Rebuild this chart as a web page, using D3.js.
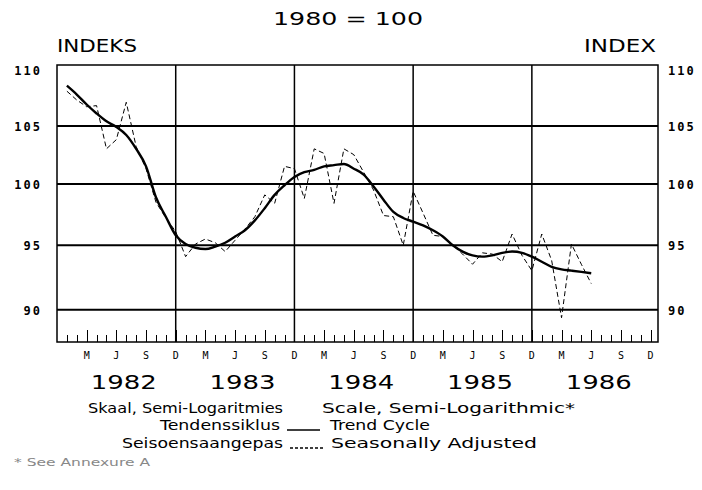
<!DOCTYPE html>
<html>
<head>
    <meta charset="utf-8">
    <style>
        body { margin: 0; background: #fff; }
        svg { display: block; }
        .grid { stroke: #000; }
        .tick { stroke: #000; stroke-width: 1.4px; shape-rendering: crispEdges; }
        .trend { fill: none; stroke: #000; stroke-width: 2.4px; }
        .seasonal { fill: none; stroke: #000; stroke-width: 1px; stroke-dasharray: 5,3; }
        .ylab { font-family: "DejaVu Sans Mono", monospace; font-weight: bold; font-size: 12px; fill: #000; }
        .txt { font-family: "DejaVu Sans", sans-serif; fill: #000; }
    </style>
</head>
<body>
    <script src="https://cdn.jsdelivr.net/npm/d3@7"></script>
    <script>
        // month index: 0 = Dec 1981, 1 = Jan 1982 ... 54 = Jun 1986
        var years = [1982, 1983, 1984, 1985, 1986];
        var quarterLabels = ["M", "J", "S", "D"];
        var yTicks = [90, 95, 100, 105, 110];
        var gridValues = [90, 95, 100, 105];

        // Tendenssiklus / Trend Cycle, Jan 1982 - Jun 1986
        var trend = [
            108.6, 107.8, 106.9, 106.1, 105.4, 104.9, 104.2, 103.0, 101.5, 98.9, 97.3, 95.8,
            95.1, 94.8, 94.7, 94.9, 95.2, 95.7, 96.2, 97.0, 98.0, 99.1, 99.9, 100.6,
            101.0, 101.2, 101.5, 101.6, 101.7, 101.3, 100.8, 99.8, 98.7, 97.7, 97.2, 96.9,
            96.6, 96.2, 95.7, 95.0, 94.5, 94.2, 94.1, 94.2, 94.4, 94.5, 94.4, 94.1,
            93.7, 93.3, 93.1, 93.0, 92.9, 92.8
        ];

        // Seisoensaangepas / Seasonally Adjusted, Jan 1982 - Jun 1986
        var seasonal = [
            108.1, 107.3, 106.7, 106.8, 103.0, 103.8, 107.1, 103.2, 101.3, 98.5, 97.2, 96.1,
            94.1, 95.1, 95.5, 95.2, 94.5, 95.4, 96.3, 97.3, 99.1, 98.4, 101.5, 101.3,
            98.8, 103.0, 102.6, 98.4, 103.0, 102.5, 101.0, 99.5, 97.4, 97.3, 95.0, 99.4,
            97.6, 95.8, 95.7, 95.0, 94.3, 93.5, 94.4, 94.3, 93.7, 95.9, 94.2, 93.0,
            95.9, 93.8, 89.4, 95.1, 93.5, 92.0
        ];

        var W = 702, H = 490;
        var pLeft = 57, pRight = 658, pTop = 65, pBottom = 342;

        // set the ranges
        var x = d3.scaleLinear().domain([0, 60.75]).range([pLeft, pRight]);
        var y = d3.scaleLog().domain([87.6, 110.5]).range([pBottom, pTop]);

        var svg = d3.select("body").append("svg")
            .attr("width", W)
            .attr("height", H);

        // horizontal grid lines
        svg.selectAll(".hgrid")
            .data(gridValues)
            .enter().append("line")
            .attr("class", "grid")
            .attr("x1", pLeft).attr("x2", pRight)
            .attr("y1", function (d) { return y(d); })
            .attr("y2", function (d) { return y(d); })
            .style("stroke-width", 2);

        // vertical grid lines at each December
        svg.selectAll(".vgrid")
            .data(years.slice(0, 4))
            .enter().append("line")
            .attr("class", "grid")
            .attr("x1", function (d, i) { return x(12 * (i + 1)); })
            .attr("x2", function (d, i) { return x(12 * (i + 1)); })
            .attr("y1", pTop).attr("y2", pBottom)
            .style("stroke-width", 1.5);

        // frame
        svg.append("rect")
            .attr("x", pLeft).attr("y", pTop)
            .attr("width", pRight - pLeft).attr("height", pBottom - pTop)
            .style("fill", "none").style("stroke", "#000").style("stroke-width", 1.5);

        // month ticks along the bottom (taller at each quarter)
        var months = d3.range(1, 61);
        svg.selectAll(".mtick")
            .data(months)
            .enter().append("line")
            .attr("class", "tick")
            .attr("x1", function (d) { return Math.round(x(d)) + 0.5; })
            .attr("x2", function (d) { return Math.round(x(d)) + 0.5; })
            .attr("y1", pBottom)
            .attr("y2", function (d) { return d % 3 === 0 ? pBottom - 12 : pBottom - 7; });

        // quarter labels
        var quarters = d3.range(3, 61, 3);
        svg.selectAll(".qlab")
            .data(quarters)
            .enter().append("text")
            .attr("class", "ylab")
            .attr("x", function (d) { return x(d); })
            .attr("y", pBottom + 17)
            .style("font-size", "10px")
            .style("font-weight", "normal")
            .attr("text-anchor", "middle")
            .text(function (d) { return quarterLabels[(d / 3 - 1) % 4]; });

        // year labels
        svg.selectAll(".yearlab")
            .data(years)
            .enter().append("text")
            .attr("class", "txt")
            .attr("x", function (d, i) { return x(6.75 + 12 * i) - 33; })
            .attr("y", pBottom + 47)
            .attr("textLength", 66).attr("lengthAdjust", "spacingAndGlyphs")
            .style("font-size", "19px")
            .text(function (d) { return d; });

        // y labels, both sides
        svg.selectAll(".yl")
            .data(yTicks)
            .enter().append("text")
            .attr("class", "ylab")
            .attr("x", 42)
            .attr("y", function (d) { return y(d) + 5; })
            .attr("text-anchor", "end")
            .style("letter-spacing", "2px")
            .text(function (d) { return d; });

        svg.selectAll(".yr")
            .data(yTicks)
            .enter().append("text")
            .attr("class", "ylab")
            .attr("x", 668)
            .attr("y", function (d) { return y(d) + 5; })
            .style("letter-spacing", "2px")
            .text(function (d) { return d; });

        // define the lines
        var trendLine = d3.line()
            .x(function (d, i) { return x(i + 1); })
            .y(function (d) { return y(d); })
            .curve(d3.curveMonotoneX);

        var seasonalLine = d3.line()
            .x(function (d, i) { return x(i + 1); })
            .y(function (d) { return y(d); });

        svg.append("path").datum(seasonal).attr("class", "seasonal").attr("d", seasonalLine);
        svg.append("path").datum(trend).attr("class", "trend").attr("d", trendLine);

        // titles
        function note(str, x0, y0, len, size) {
            return svg.append("text").attr("class", "txt")
                .attr("x", x0).attr("y", y0)
                .attr("textLength", len).attr("lengthAdjust", "spacingAndGlyphs")
                .style("font-size", size + "px").text(str);
        }
        note("1980 = 100", 273, 25, 150, 18);
        note("INDEKS", 57, 52, 80, 18);
        note("INDEX", 584, 52, 72, 18);

        // legend text
        note("Skaal, Semi-Logaritmies", 88, 413, 195, 14);
        note("Scale, Semi-Logarithmic*", 322, 413, 253, 14);
        note("Tendenssiklus", 160, 430, 120, 14);
        note("Trend Cycle", 330, 430, 100, 14);
        note("Seisoensaangepas", 122, 448, 161, 14);
        note("Seasonally Adjusted", 331, 448, 206, 14);
        note("* See Annexure A", 14, 466, 136, 11).style("fill", "#888");

        // legend keys
        svg.append("line").attr("class", "trend")
            .attr("x1", 287).attr("x2", 320).attr("y1", 430).attr("y2", 430)
            .style("stroke-width", 1.5);
        svg.append("line").attr("class", "seasonal")
            .attr("x1", 290).attr("x2", 323).attr("y1", 448).attr("y2", 448)
            .style("stroke-width", 1.5).style("stroke-dasharray", "3,2");
    </script>
</body>
</html>
